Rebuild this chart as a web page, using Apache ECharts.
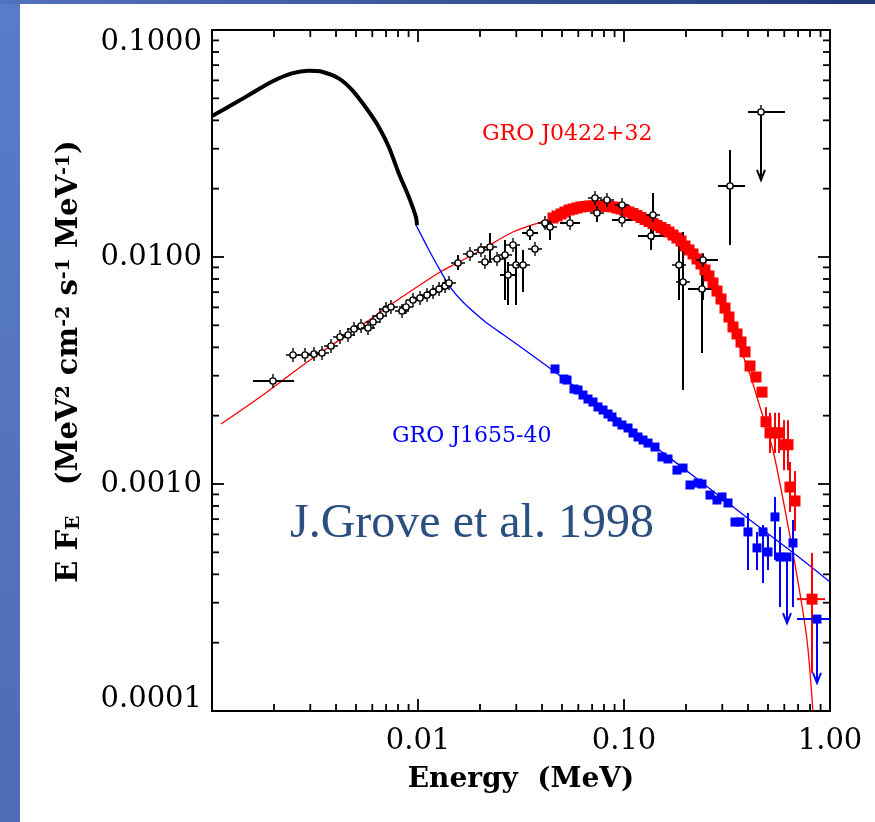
<!DOCTYPE html>
<html>
<head>
<meta charset="utf-8">
<title>GRO J0422+32 / GRO J1655-40</title>
<script src="https://cdn.jsdelivr.net/npm/echarts@6/dist/echarts.min.js"></script>
<style>
html,body{margin:0;padding:0;background:#fff;}
#chart{width:875px;height:822px;}
</style>
</head>
<body>
<div id="chart"></div>
<script>
// axis ranges (MeV, MeV^2 cm^-2 s^-1 MeV^-1)
const E_MIN = 0.001, E_MAX = 1;
const F_MIN = 0.0001, F_MAX = 0.1;
const xTickText = ['', '0.01', '0.10', '1.00'];
// first / last label are nudged inside the frame like the original plot
const yTickText = ['0.0001\n', '0.0010', '0.0100', '\n0.1000'];
const minorSteps = [2, 3, 4, 5, 6, 7, 8, 9];

// soft X-ray spectrum (black thick curve)
const softCurve = [
    [0.001, 0.0418], [0.00125, 0.0468], [0.00156, 0.0526], [0.00195, 0.0592],
    [0.00244, 0.0644], [0.00294, 0.0662], [0.00342, 0.0655], [0.00412, 0.0612],
    [0.00479, 0.0544], [0.00555, 0.0459], [0.00644, 0.0375], [0.00721, 0.0306],
    [0.00806, 0.0234], [0.00902, 0.0184], [0.00977, 0.0150], [0.00989, 0.0138]
];

// model curves
const redModel = [
    [0.001106, 0.001837], [0.001711, 0.002416], [0.002993, 0.00352], [0.005649, 0.00519],
    [0.007568, 0.00627], [0.0128, 0.00859], [0.01652, 0.0097], [0.02071, 0.01084],
    [0.0289, 0.01289], [0.04227, 0.01455], [0.06105, 0.01643], [0.07633, 0.01695],
    [0.09574, 0.01678], [0.1197, 0.01546], [0.1619, 0.01329], [0.2163, 0.01052],
    [0.2705, 0.007762], [0.3459, 0.004533], [0.4094, 0.00302], [0.4572, 0.002184],
    [0.5284, 0.001412], [0.618, 0.000694], [0.6918, 0.000393], [0.7731, 0.000206],
    [0.8257, 0.0001]
];
const blueModel = [
    [0.00978, 0.01384], [0.01143, 0.01052], [0.01278, 0.00877], [0.01429, 0.00738],
    [0.01652, 0.00634], [0.02069, 0.005278], [0.02312, 0.004891], [0.02588, 0.004556],
    [0.03127, 0.004034], [0.03911, 0.003483], [0.07643, 0.00223], [0.1336, 0.00152],
    [0.2338, 0.00103], [0.409, 0.000694], [0.7151, 0.000472], [1.0, 0.00037]
];

// GRO J0422+32 OSSE points (red)
const redPts = [
    [0.04522, 0.01485], [0.0473, 0.01516], [0.0495, 0.01547], [0.0517, 0.01578],
    [0.0541, 0.01611], [0.0566, 0.01627], [0.0591, 0.01644], [0.0618, 0.01661],
    [0.0647, 0.01669], [0.0676, 0.01678], [0.0707, 0.01678], [0.0739, 0.01678],
    [0.0773, 0.01678], [0.0808, 0.01678], [0.0845, 0.01669], [0.0884, 0.01661],
    [0.0925, 0.01644], [0.0967, 0.01627], [0.1011, 0.01602], [0.1057, 0.01578],
    [0.1106, 0.01554], [0.1156, 0.01523], [0.1209, 0.01493], [0.1264, 0.01463],
    [0.1322, 0.01434], [0.1383, 0.01405], [0.1446, 0.01377], [0.1512, 0.01349],
    [0.1581, 0.01322], [0.1653, 0.01289], [0.1729, 0.0125], [0.1808, 0.01212],
    [0.1891, 0.01176], [0.1977, 0.01118], [0.2068, 0.01074], [0.2163, 0.01031],
    [0.2262, 0.0098], [0.2365, 0.00932], [0.2473, 0.00877], [0.2586, 0.00825],
    [0.2704, 0.00768], [0.2828, 0.00708], [0.2958, 0.00653], [0.3093, 0.00596],
    [0.3234, 0.00544], [0.3382, 0.00492], [0.3537, 0.00458], [0.3698, 0.00422],
    [0.3867, 0.00382], [0.4089, 0.00331], [0.4373, 0.00296], [0.4677, 0.00254],
    [0.4891, 0.00188], [0.5114, 0.00168], [0.5408, 0.00168], [0.5655, 0.00168],
    [0.598, 0.00149], [0.6253, 0.00149], [0.6394, 0.00097], [0.6761, 0.000842],
    [0.8178, 0.000311]
];
const redYErr = [
    [0.4891, 0.00218, 0.00161], [0.5114, 0.00206, 0.00137], [0.5408, 0.00206, 0.00137],
    [0.5655, 0.00206, 0.00137], [0.598, 0.00191, 0.00115], [0.6253, 0.00191, 0.00115],
    [0.6394, 0.00125, 0.000753], [0.6761, 0.00114, 0.000621], [0.8178, 0.000497, 0.000147]
];
const redXErr = [[0.6918, 0.9456, 0.000311]];

// GRO J1655-40 OSSE points (blue)
const bluePts = [
    [0.04624, 0.003211], [0.05114, 0.002901], [0.05289, 0.002871], [0.05719, 0.002621],
    [0.0598, 0.002595], [0.06324, 0.002466], [0.06686, 0.002368], [0.0707, 0.002297],
    [0.07477, 0.002184], [0.07909, 0.002118], [0.08361, 0.002034], [0.08744, 0.001973],
    [0.0925, 0.001876], [0.09779, 0.001819], [0.1046, 0.001765], [0.1106, 0.001678],
    [0.1169, 0.001611], [0.1237, 0.001562], [0.1308, 0.001515], [0.1414, 0.001455],
    [0.1529, 0.001315], [0.1635, 0.001289], [0.1808, 0.001152], [0.1934, 0.001176],
    [0.2091, 0.00099], [0.2287, 0.00101], [0.2391, 0.001], [0.2615, 0.000894],
    [0.2828, 0.00085], [0.2991, 0.000877], [0.3198, 0.000825], [0.3458, 0.00068],
    [0.3657, 0.00068], [0.3998, 0.000615], [0.4422, 0.000523], [0.473, 0.000615],
    [0.5, 0.000502], [0.5408, 0.000716], [0.5719, 0.000477], [0.6184, 0.000477],
    [0.6612, 0.00055], [0.8647, 0.000254]
];
const blueYErr = [
    [0.3998, 0.000745, 0.000418], [0.4422, 0.000615, 0.000418], [0.473, 0.00066, 0.000366],
    [0.5, 0.000596, 0.000418], [0.5408, 0.000877, 0.000463], [0.5719, 0.000647, 0.000287],
    [0.6612, 0.000694, 0.000287]
];
const blueXErr = [[0.6918, 1.0, 0.000254]];
const blueLimits = [[0.6184, 0.000477, 0.000244], [0.8647, 0.000254, 0.000133]];

// GRO J0422+32 soft / hard X-ray points (black open circles)
const blackPts = [
    [0.001977, 0.002842], [0.002473, 0.003701], [0.002828, 0.003701], [0.003127, 0.003738],
    [0.00342, 0.003776], [0.003782, 0.004054], [0.004182, 0.004442], [0.004574, 0.004533],
    [0.004891, 0.004817], [0.005289, 0.004966], [0.005719, 0.004866], [0.006048, 0.005172],
    [0.00654, 0.005495], [0.006994, 0.005901], [0.007393, 0.006022], [0.008361, 0.005783],
    [0.008744, 0.006022], [0.009456, 0.006465], [0.01023, 0.006598], [0.01106, 0.006801],
    [0.01183, 0.007011], [0.01265, 0.007228], [0.01353, 0.00745], [0.01414, 0.00768],
    [0.01564, 0.00941], [0.01788, 0.01031], [0.02022, 0.01074], [0.02114, 0.009506],
    [0.02236, 0.01107], [0.02418, 0.0098], [0.02645, 0.0102], [0.02735, 0.008332],
    [0.02892, 0.01129], [0.02991, 0.009222], [0.03234, 0.009222], [0.03497, 0.01276],
    [0.03698, 0.01084], [0.04135, 0.01412], [0.04373, 0.01356], [0.0547, 0.01412],
    [0.07229, 0.01819], [0.07393, 0.01562], [0.08268, 0.01783], [0.09779, 0.01695],
    [0.09779, 0.01455], [0.1383, 0.01531], [0.1353, 0.01237], [0.1849, 0.009222],
    [0.1934, 0.007762], [0.2418, 0.0097], [0.2391, 0.007228], [0.327, 0.02055],
    [0.4624, 0.04353]
];
const blackYErr = [
    [0.01564, 0.0102, 0.00877], [0.02236, 0.01276, 0.009506], [0.02645, 0.01188, 0.006465],
    [0.02735, 0.009506, 0.006145], [0.02991, 0.01129, 0.006145], [0.03234, 0.01074, 0.007011],
    [0.03497, 0.0137, 0.01188], [0.04373, 0.01485, 0.01188], [0.07393, 0.01695, 0.01426],
    [0.1383, 0.01914, 0.01188], [0.1353, 0.01342, 0.01074], [0.1849, 0.01188, 0.006465],
    [0.1934, 0.01289, 0.002595], [0.2418, 0.01031, 0.006465], [0.2391, 0.01, 0.003776],
    [0.327, 0.02961, 0.01129]
];
const blackXErr = [
    [0.001581, 0.002501, 0.002842], [0.02501, 0.02991, 0.008332], [0.03198, 0.03824, 0.01276],
    [0.04891, 0.06115, 0.01412], [0.08744, 0.1094, 0.01455], [0.1169, 0.1564, 0.01237],
    [0.2163, 0.286, 0.0097], [0.2045, 0.2674, 0.007228], [0.286, 0.3867, 0.02055],
    [0.3998, 0.6048, 0.04353]
];
const blackLimits = [[0.4624, 0.04353, 0.02184]];

const xMinorTicks = [];
const yMinorTicks = [];
[0.001, 0.01, 0.1].forEach(function (d) {
    minorSteps.forEach(function (m) { xMinorTicks.push([d * m, F_MIN]); });
});
[0.0001, 0.001, 0.01].forEach(function (d) {
    minorSteps.forEach(function (m) { yMinorTicks.push([E_MIN, d * m]); });
});

const SERIF = 'DejaVu Serif';

function vBar(color) {
    return function (params, api) {
        var a = api.coord([api.value(0), api.value(1)]);
        var b = api.coord([api.value(0), api.value(2)]);
        return {type: 'line', shape: {x1: a[0], y1: a[1], x2: b[0], y2: b[1]},
            style: {stroke: color, lineWidth: 2}};
    };
}
function hBar(color) {
    return function (params, api) {
        var a = api.coord([api.value(0), api.value(2)]);
        var b = api.coord([api.value(1), api.value(2)]);
        return {type: 'line', shape: {x1: a[0], y1: a[1], x2: b[0], y2: b[1]},
            style: {stroke: color, lineWidth: 2}};
    };
}
function arrow(color) {
    return function (params, api) {
        var a = api.coord([api.value(0), api.value(1)]);
        var b = api.coord([api.value(0), api.value(2)]);
        return {type: 'group', children: [
            {type: 'line', shape: {x1: a[0], y1: a[1], x2: b[0], y2: b[1]},
                style: {stroke: color, lineWidth: 2}},
            {type: 'polyline', shape: {points: [[b[0] - 4, b[1] - 10], [b[0], b[1]], [b[0] + 4, b[1] - 10]]},
                style: {stroke: color, lineWidth: 2, fill: null}}
        ]};
    };
}
function errSeries(data, render, enc) {
    return {type: 'custom', data: data, renderItem: render, encode: enc, z: 4, silent: true};
}

var chart = echarts.init(document.getElementById('chart'));

var tickStyle = {color: '#000', width: 1.8};
function xAxisCfg(pos, labels) {
    return {
        type: 'log', logBase: 10, min: E_MIN, max: E_MAX, position: pos,
        axisLine: {show: false},
        splitLine: {show: false},
        axisTick: {inside: true, length: 12, lineStyle: tickStyle},
        axisLabel: {
            show: labels, margin: 16, color: '#000', fontFamily: SERIF, fontSize: 29,
            formatter: function (v) { return xTickText[Math.round(Math.log10(v)) + 3] || ''; }
        },
        name: labels ? 'Energy  (MeV)' : '',
        nameLocation: 'middle', nameGap: 55,
        nameTextStyle: {color: '#000', fontFamily: SERIF, fontWeight: 'bold', fontSize: 28}
    };
}
function yAxisCfg(pos, labels) {
    return {
        type: 'log', logBase: 10, min: F_MIN, max: F_MAX, position: pos,
        axisLine: {show: false},
        splitLine: {show: false},
        axisTick: {inside: true, length: 12, lineStyle: tickStyle},
        axisLabel: {
            show: labels, margin: 10, color: '#000', fontFamily: SERIF, fontSize: 29, lineHeight: 24,
            formatter: function (v) { return yTickText[Math.round(Math.log10(v)) + 4] || ''; }
        },
        name: labels ? 'E F{sub|E}   (MeV{sup|2} cm{sup|-2} s{sup|-1} MeV{sup|-1})' : '',
        nameLocation: 'middle', nameGap: 128, nameRotate: 90,
        nameTextStyle: {
            color: '#000', fontFamily: SERIF, fontWeight: 'bold', fontSize: 29,
            padding: [0, 0, 0, 18],
            rich: {
                sub: {fontFamily: SERIF, fontWeight: 'bold', fontSize: 19, verticalAlign: 'bottom', color: '#000'},
                sup: {fontFamily: SERIF, fontWeight: 'bold', fontSize: 19, verticalAlign: 'top', color: '#000'}
            }
        }
    };
}

const option = {
    animation: false,
    backgroundColor: '#fff',
    grid: {left: 212, right: 45, top: 30, bottom: 111, show: true,
        borderColor: '#000', borderWidth: 2, backgroundColor: 'transparent'},
    xAxis: [xAxisCfg('bottom', true), xAxisCfg('top', false)],
    yAxis: [yAxisCfg('left', true), yAxisCfg('right', false)],
    graphic: [
        {type: 'rect', left: 0, top: 0, shape: {width: 20, height: 822}, silent: true,
            style: {fill: new echarts.graphic.LinearGradient(0, 0, 0, 1, [
                {offset: 0, color: '#5a7cc8'}, {offset: 1, color: '#4d6cb6'}])}},
        {type: 'rect', left: 0, top: 0, shape: {width: 875, height: 4}, silent: true,
            style: {fill: new echarts.graphic.LinearGradient(0, 0, 1, 0, [
                {offset: 0, color: '#5272bd'}, {offset: 1, color: '#213a78'}])}},
        {type: 'text', x: 482, y: 134, silent: true,
            style: {text: 'GRO J0422+32', fill: '#ff0000', font: '22px "DejaVu Serif"',
                textAlign: 'left', textVerticalAlign: 'middle'}},
        {type: 'text', x: 392, y: 436, silent: true,
            style: {text: 'GRO J1655-40', fill: '#0000ff', font: '22px "DejaVu Serif"',
                textAlign: 'left', textVerticalAlign: 'middle'}},
        {type: 'text', x: 290, y: 524, silent: true,
            style: {text: 'J.Grove et al. 1998', fill: '#2b4f80', font: '48px "Liberation Serif"',
                textAlign: 'left', textVerticalAlign: 'middle'}}
    ],
    series: [
        {type: 'custom', data: xMinorTicks, silent: true, z: 1,
            renderItem: function (params, api) {
                var b = api.coord([api.value(0), F_MIN]);
                var t = api.coord([api.value(0), F_MAX]);
                return {type: 'group', children: [
                    {type: 'line', shape: {x1: b[0], y1: b[1], x2: b[0], y2: b[1] - 7}, style: {stroke: '#000', lineWidth: 1.8}},
                    {type: 'line', shape: {x1: t[0], y1: t[1], x2: t[0], y2: t[1] + 7}, style: {stroke: '#000', lineWidth: 1.8}}
                ]};
            }},
        {type: 'custom', data: yMinorTicks, silent: true, z: 1,
            renderItem: function (params, api) {
                var l = api.coord([E_MIN, api.value(1)]);
                var r = api.coord([E_MAX, api.value(1)]);
                return {type: 'group', children: [
                    {type: 'line', shape: {x1: l[0], y1: l[1], x2: l[0] + 7, y2: l[1]}, style: {stroke: '#000', lineWidth: 1.8}},
                    {type: 'line', shape: {x1: r[0], y1: r[1], x2: r[0] - 7, y2: r[1]}, style: {stroke: '#000', lineWidth: 1.8}}
                ]};
            }},
        {name: 'soft', type: 'line', data: softCurve, smooth: 0.3, showSymbol: false,
            lineStyle: {color: '#000', width: 4}, z: 3},
        {name: 'redModel', type: 'line', data: redModel, smooth: 0.3, showSymbol: false,
            lineStyle: {color: '#ff0000', width: 1.3}, z: 2},
        {name: 'blueModel', type: 'line', data: blueModel, smooth: 0.2, showSymbol: false,
            lineStyle: {color: '#0000ff', width: 1.3}, z: 2},
        errSeries(redYErr, vBar('#ff0000'), {x: 0, y: [1, 2]}),
        errSeries(redXErr, hBar('#ff0000'), {x: [0, 1], y: 2}),
        {name: 'GRO J0422+32', type: 'scatter', data: redPts, symbol: 'rect', symbolSize: 11,
            itemStyle: {color: '#ff0000', opacity: 1}, z: 4},
        errSeries(blueYErr, vBar('#0000ff'), {x: 0, y: [1, 2]}),
        errSeries(blueXErr, hBar('#0000ff'), {x: [0, 1], y: 2}),
        errSeries(blueLimits, arrow('#0000ff'), {x: 0, y: [1, 2]}),
        {name: 'GRO J1655-40', type: 'scatter', data: bluePts, symbol: 'rect', symbolSize: 9,
            itemStyle: {color: '#0000ff', opacity: 1}, z: 4},
        errSeries(blackYErr, vBar('#000'), {x: 0, y: [1, 2]}),
        errSeries(blackXErr, hBar('#000'), {x: [0, 1], y: 2}),
        errSeries(blackLimits, arrow('#000'), {x: 0, y: [1, 2]}),
        {name: 'J0422 X', type: 'scatter', data: blackPts, z: 5,
            symbol: 'path://M0,10L5.5,10M14.5,10L20,10M10,0L10,5.5M10,14.5L10,20M14.5,10A4.5,4.5,0,1,1,5.5,10A4.5,4.5,0,1,1,14.5,10Z',
            symbolSize: 14,
            itemStyle: {color: '#fff', borderColor: '#000', borderWidth: 1.4, opacity: 1}}
    ]
};
chart.setOption(option);
window.addEventListener('resize', function () { chart.resize(); });
</script>
</body>
</html>
